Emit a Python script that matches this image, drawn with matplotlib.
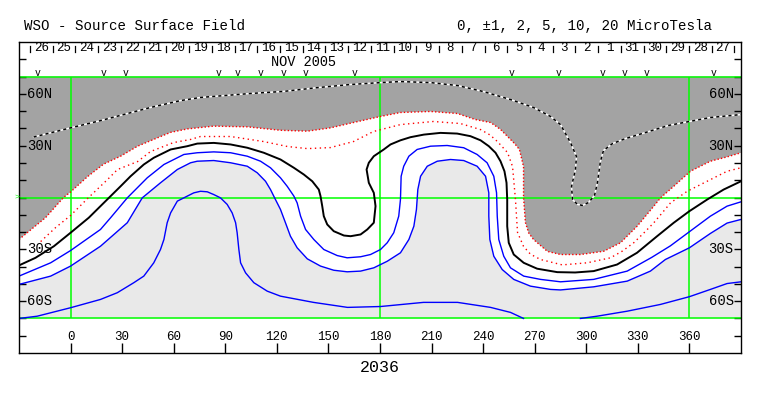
import matplotlib
matplotlib.use('Agg')
import matplotlib.pyplot as plt

# ---------------- data (Carrington longitude, latitude in degrees) ----------------
# +5 contour (black/white dashed, inside the positive shaded region)
pos5_lon = [-21.5, 0, 17.4, 46.5, 64, 75.6, 104.7, 123.9, 143.7, 162.8, 180.3, 191.9, 209.4, 225.1,
            240.2, 255.9, 269.3, 279.2, 285, 290.8, 294.3, 293.7, 291.4, 292, 294.9, 297.8, 301.3,
            304.8, 306.5, 308.2, 310, 315.2, 322.8, 334.4, 347.8, 360, 372.2, 390]
pos5_lat = [35.0, 40.3, 44.5, 52.1, 56.1, 57.9, 60.2, 61.4, 63.6, 65.4, 66.5, 67.1, 66.5, 64.8,
            61.3, 56.7, 52.1, 46.9, 42.2, 31.8, 23.7, 16.2, 6.4, -1.2, -4.0, -4.6, -2.9,
            1.2, 8.7, 20.8, 27.2, 31.2, 34.1, 37.6, 41.7, 44.0, 46.3, 48.0]

# +2 contour (red dotted, edge of dark shading)
pos2_lon = [-30, -14.5, -4.1, 0, 9.9, 19.2, 29.1, 39, 48.3, 58.2, 68, 83.2, 102.9, 122.1, 137.8,
            151.2, 164.6, 180.3, 191.9, 209.4, 225.1, 235.5, 244.3, 250, 254.2, 258.5, 261.1, 263.5, 263.5,
            264.6, 266.5, 269.3, 277.4, 285, 296.6, 310.2, 319.9, 329.6, 339.3, 343.2, 350.9, 360.6,
            372.2, 381.9, 390]
pos2_lat = [-24.3, -11.6, 0, 3.2, 12.1, 19.3, 23.9, 29.7, 33.6, 37.7, 39.7, 41.3, 40.9, 38.9, 38.4,
            40.3, 43.4, 46.9, 49.2, 49.8, 48.6, 45.1, 43.4, 39.5, 35.3, 31.0, 27.8, 17.9, 0,
            -14.5, -20.5, -24.3, -31.2, -33.0, -33.0, -31.1, -26.2, -16.6, -5.0, -0.2, 6.5, 15.2,
            21.0, 23.5, 25.9]

# +1 contour (red dotted)
pos1_lon = [-17.4, -8.7, 0, 10.5, 21.5, 27.3, 39, 46.5, 59.9, 69.8, 75.6, 93.1, 112.2, 126.2, 137.8,
            151.2, 164.6, 176.2, 191.9, 211.1, 226.8, 238.5, 244, 248.3, 254.2, 257.1, 258.8, 260, 263.5,
            267.5, 273.4, 286, 300.5, 314.1, 321, 327.6, 333.5, 339.3, 344.5, 349, 358.7, 370.3, 381.9, 390]
pos1_lat = [-25.5, -17.4, -10.4, 0, 10.4, 16.2, 20.8, 26.6, 31.8, 33.6, 35.3, 35.3, 32.4, 29.5, 28.3,
            28.9, 32.4, 38.2, 42.2, 44.0, 42.8, 39.3, 36.2, 32.4, 26.0, 17.9, -1.2, -20.2, -28.3,
            -32.8, -35.9, -39.0, -37.8, -34.9, -31.0, -26.2, -20.5, -14.6, -8.5, -3.1, 3.6, 9.4, 15.2, 17.2]

# 0 contour (neutral line, black)
zero_lon = [-30, -20.4, -9.7, 0, 10.6, 17.4, 23.3, 29.1, 34.9, 42.6, 48.4, 58.2, 67.9, 73.7, 83.3, 93.1,
            102.8, 112.4, 122.1, 129.9, 135.7, 140.6, 144.4, 145.4, 146.4, 147.3, 149.3, 153.1, 159,
            162.9, 168.7, 172.6, 176.4, 177.4, 176.4, 173.5, 172.2, 173.5, 176.4, 182.2, 186.1, 191.9,
            197.7, 205.5, 215.2, 224.9, 232.6, 238.5, 243.3, 247.2, 250.1, 252.4, 253.6, 254.0, 254.0,
            254.9, 257.8, 263.6, 271.4, 283.1, 293.5, 304.3, 317.9, 329.5, 341.2, 350.9, 360, 370.3,
            379.9, 390]
zero_lat = [-39.3, -34.9, -28.2, -20.4, -11.7, -5.0, 0.8, 6.5, 12.3, 19.1, 23.0, 27.8, 29.7, 31.2, 31.6, 30.7,
            28.8, 25.9, 22.0, 17.2, 13.3, 9.4, 4.6, 0.8, -5.0, -10.8, -15.6, -19.5, -22.0,
            -22.4, -21.4, -18.5, -14.6, -5.0, 2.7, 8.5, 16.2, 20.1, 23.9, 27.8, 30.7, 33.1,
            34.9, 36.4, 37.4, 37.0, 35.5, 33.1, 29.7, 25.9, 21.0, 15.2, 8.5, -1.2, -16.6,
            -26.2, -33.0, -37.8, -41.2, -43.2, -43.4, -42.6, -38.8, -32.0, -22.4, -14.6, -7.9, -1.2,
            4.6, 9.4]

# -1 contour (blue)
neg1_lon = [-30, -11.6, 0, 17.4, 23.3, 33.0, 44.6, 54.3, 65.9, 73.7, 83.3, 93.1, 102.8, 110.5, 116.3,
            122.1, 126.0, 129.9, 131.8, 133.8, 136.7, 141.5, 147.3, 155.1, 160.9, 168.7, 174.5, 180.3,
            184.2, 188.0, 190.9, 191.9, 192.3, 193.8, 196.8, 201.6, 209.4, 219.1, 228.7, 236.5, 242.3,
            246.2, 247.8, 248.2, 249.1, 252.0, 255.9, 263.6, 273.4, 285, 304.3, 323.8, 338, 348.9,
            360, 372.2, 381.9, 390]
neg1_lat = [-45.5, -37.8, -30.7, -18.5, -11.7, -0.2, 11.4, 19.1, 24.9, 25.9, 26.4, 25.9, 23.9, 21.0, 17.2,
            11.4, 6.5, 0.8, -3.1, -10.8, -18.5, -24.3, -30.1, -33.6, -34.9, -34.3, -33.0, -30.1,
            -26.2, -20.4, -10.8, -1.2, 12.3, 18.1, 23.9, 27.8, 29.7, 30.1, 28.8, 24.9, 20.1,
            12.3, 2.7, -10.8, -24.3, -34.0, -40.7, -45.5, -47.4, -48.8, -47.4, -42.6, -34.7, -28.0,
            -19.8, -10.8, -5.0, -2.5]

# -2 contour (blue, edge of light shading)
neg2_lon = [-30, -11.6, 0, 17.4, 33.0, 41.7, 52.3, 62.1, 69.8, 73.7, 83.3, 93.1, 102.8, 108.6, 113.4,
            116.3, 119.2, 122.1, 125.0, 127.9, 131.8, 137.7, 145.4, 153.1, 160.9, 168.7, 176.4, 184.2,
            191.9, 196.8, 199.7, 201.2, 202.0, 203.6, 207.5, 213.3, 221.0, 228.7, 236.5, 241.4, 243.3,
            243.3, 243.9, 246.2, 251.1, 257.8, 267.5, 279.2, 285, 304.3, 323.8, 337.3, 346, 360,
            372.2, 381.9, 390]
neg2_lat = [-50.3, -45.5, -39.7, -28.2, -14.6, -0.2, 8.5, 16.2, 20.1, 21.0, 21.4, 20.1, 18.1, 14.3, 9.4,
            4.6, -1.2, -6.9, -14.6, -22.4, -29.1, -35.5, -39.7, -42.1, -43.0, -42.6, -40.7, -36.9,
            -32.0, -24.3, -16.6, -6.9, 4.6, 12.3, 18.1, 21.0, 22.0, 21.4, 18.1, 12.3, 2.7,
            -10.8, -24.3, -34.0, -41.7, -47.4, -51.3, -53.2, -53.5, -51.7, -48.4, -42.6, -35.9, -29.1,
            -20.8, -14.8, -12.7]

# -5 contour (blue), two pieces
neg5a_lon = [-30, -19.4, 0, 17.4, 27.2, 36.8, 42.6, 48.4, 52.3, 54.3, 56.2, 58.2, 62.1, 67.9, 71.7, 75.6,
             79.5, 83.3, 87.2, 91.1, 94.0, 96.0, 96.9, 97.9, 98.9, 101.8, 106.6, 114.4, 122.1, 141.3,
             161.1, 180.3, 205.3, 225.1, 244.3, 255.9, 263.5]
neg5a_lat = [-70, -68.7, -63.8, -59.0, -55.1, -49.3, -45.5, -37.8, -30.1, -24.3, -14.6, -8.9, -2.1, 0.8, 2.7, 3.6,
             3.3, 1.7, -0.2, -4.0, -8.9, -14.6, -20.4, -30.1, -37.8, -43.6, -49.3, -54.2, -57.1, -60.7,
             -63.6, -63.1, -60.7, -60.7, -63.6, -66.5, -70]
neg5b_lon = [296.6, 306.3, 323.8, 343.1, 360, 372.2, 381.9, 390]
neg5b_lat = [-70, -68.7, -65.8, -61.9, -57.4, -53.2, -49.8, -48.8]

# Carrington day labels (Nov/Oct 2005) and their longitudes
day_labels = ['26', '25', '24', '23', '22', '21', '20', '19', '18', '17', '16', '15', '14', '13', '12',
              '11', '10', '9', '8', '7', '6', '5', '4', '3', '2', '1', '31', '30', '29', '28', '27']
day_lons = [-17.0, -3.8, 9.4, 22.7, 35.9, 49.1, 62.3, 75.5, 88.8, 102.0, 115.2, 128.4, 141.6, 154.9, 168.1,
            181.3, 194.5, 207.7, 221.0, 234.2, 247.4, 260.6, 273.8, 287.1, 300.3, 313.5, 326.7, 339.9,
            353.2, 366.4, 379.6]
# observation markers ("v") longitudes
obs_lons = [-19.2, 19.2, 32, 86.1, 97.1, 110.5, 123.9, 136.7, 165.2, 256.5, 283.8, 309.4, 322.2, 335, 374]

lon_ticks = [0, 30, 60, 90, 120, 150, 180, 210, 240, 270, 300, 330, 360]
lat_labels = [(60, '60N'), (30, '30N'), (-30, '30S'), (-60, '60S')]
rotation = '2036'

# ---------------- drawing ----------------
FONT = 'Liberation Mono'
plt.rcParams['font.family'] = [FONT, 'DejaVu Sans Mono']

fig = plt.figure(figsize=(7.63, 3.96), dpi=100)
ax = fig.add_axes([19 / 763, 43 / 396, 722 / 763, 311 / 396])
ax.set_xlim(-30, 390)
ax.set_ylim(-90, 90)

DARK = '#a3a3a3'
LIGHT = '#e9e9e9'
GREEN = '#00ff00'

ax.fill(pos2_lon + [390, -30], pos2_lat + [70, 70], color=DARK, lw=0, zorder=1)
ax.fill(neg2_lon + [390, -30], neg2_lat + [-70, -70], color=LIGHT, lw=0, zorder=1)

# green grid lines
for la in (70, 0, -70):
    ax.plot([-30, 390], [la, la], color=GREEN, lw=1.1, zorder=2, solid_capstyle='butt')
for lo in (0, 180, 360):
    ax.plot([lo, lo], [-70, 70], color=GREEN, lw=1.1, zorder=2, solid_capstyle='butt')

# contours
ax.plot(pos5_lon, pos5_lat, color='white', lw=1.1, zorder=3)
ax.plot(pos5_lon, pos5_lat, color='black', lw=1.1, ls=(0, (2, 2)), zorder=3)
ax.plot(pos2_lon, pos2_lat, color='red', lw=1.0, ls=(0, (1, 1.5)), zorder=3)
ax.plot(pos1_lon, pos1_lat, color='red', lw=1.0, ls=(0, (1, 2.5)), zorder=3)
ax.plot(zero_lon, zero_lat, color='black', lw=1.4, zorder=3)
for lo, la in ((neg1_lon, neg1_lat), (neg2_lon, neg2_lat), (neg5a_lon, neg5a_lat), (neg5b_lon, neg5b_lat)):
    ax.plot(lo, la, color='#0000ff', lw=1.0, zorder=3)

# frame ticks
ax.set_xticks(lon_ticks)
ax.set_yticks(list(range(-80, 90, 10)))
ax.tick_params(axis='y', direction='in', left=True, right=True, length=5, width=1,
               labelleft=False, labelright=False)
ax.tick_params(axis='x', direction='in', bottom=True, top=False, length=7, width=1,
               labelbottom=False)
for s in ax.spines.values():
    s.set_linewidth(1)
    s.set_zorder(5)

# longitude labels inside frame
for lo in lon_ticks:
    ax.text(lo, -80.5, str(lo), ha='center', va='center', fontsize=9, zorder=6)

# latitude labels inside frame
for la, lab in lat_labels:
    ax.text(-25.2, la, lab, ha='left', va='center', fontsize=10, zorder=6)
    ax.text(385.8, la, lab, ha='right', va='center', fontsize=10, zorder=6)

# day labels and ticks
for lo, lab in zip(day_lons, day_labels):
    ax.text(lo, 86.6, lab, ha='center', va='center', fontsize=9, zorder=6)
half = (day_lons[1] - day_lons[0]) / 2
tick_pos = [day_lons[0] - half] + [(a + b) / 2 for a, b in zip(day_lons[:-1], day_lons[1:])] + [day_lons[-1] + half]
for tp in tick_pos:
    ax.plot([tp, tp], [84.5, 87.8], color='black', lw=0.9, zorder=6)
ax.text(135.5, 78.6, 'NOV 2005', ha='center', va='center', fontsize=9.8, zorder=6)

for lo in obs_lons:
    ax.text(lo, 71.9, 'v', ha='center', va='center', fontsize=7, zorder=6)

ax.text(-31.3, 0, '>', ha='center', va='center', fontsize=6, color=GREEN, clip_on=False, zorder=6)

# titles
fig.text(24 / 763, 1 - 26 / 396, 'WSO - Source Surface Field', ha='left', va='center', fontsize=10.2)
fig.text(712 / 763, 1 - 26 / 396, '0, \u00b11, 2, 5, 10, 20 MicroTesla', ha='right', va='center', fontsize=10.2)
fig.text(380 / 763, 1 - 367 / 396, rotation, ha='center', va='center', fontsize=12)

fig.savefig('out.png', dpi=100, facecolor='white')
